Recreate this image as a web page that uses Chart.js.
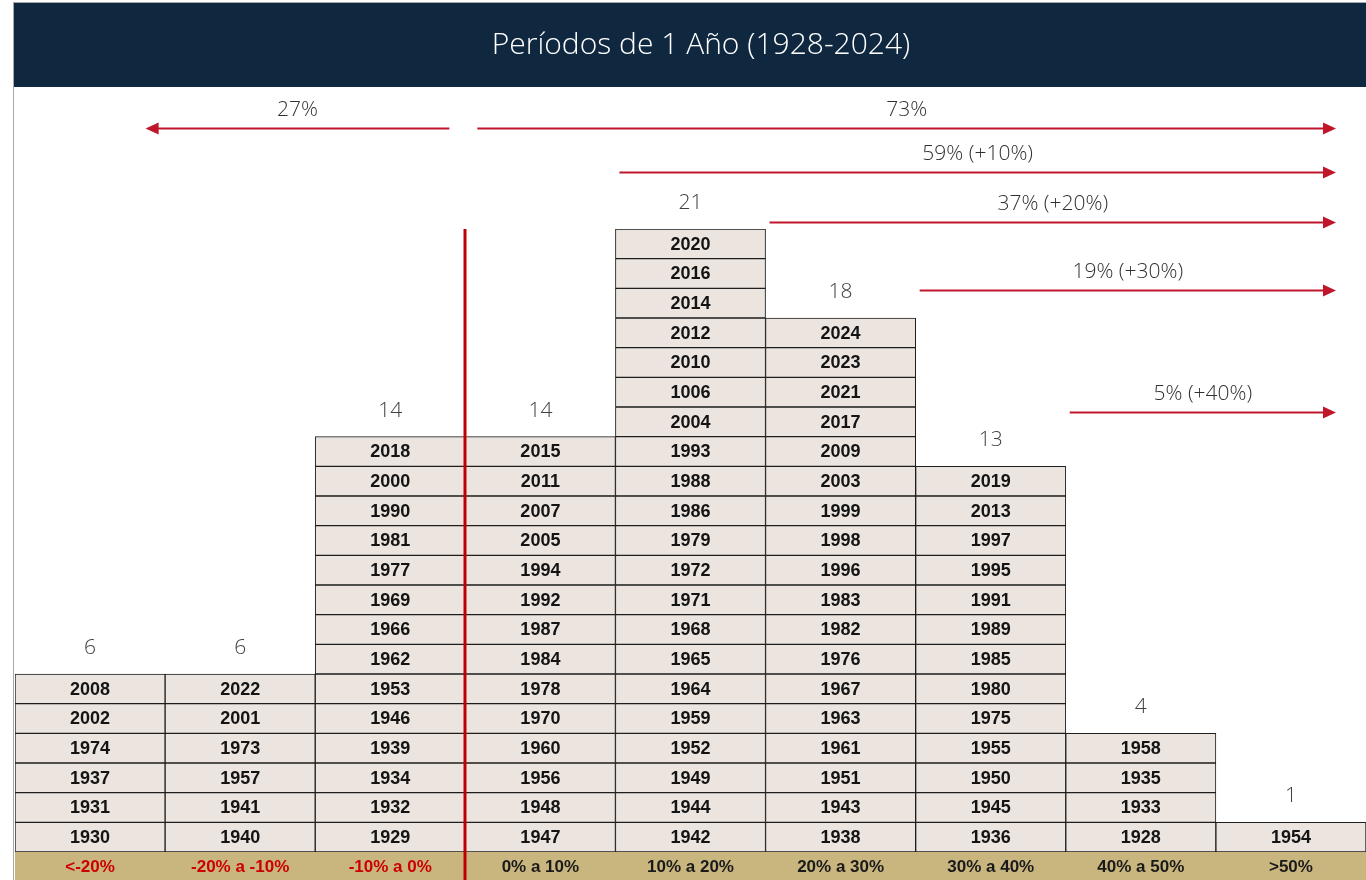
<!DOCTYPE html>
<html><head><meta charset="utf-8">
<script src="https://cdn.jsdelivr.net/npm/chart.js@4.4.1/dist/chart.umd.min.js"></script>
<style>html,body{margin:0;padding:0;background:#fff;}#wrap{width:1366px;height:880px;position:relative;}</style>
</head><body><div id="wrap"><canvas id="c" width="1366" height="880"></canvas></div>
<script>
const chartTitle = 'Períodos de 1 Año (1928-2024)';
const categories = ['<-20%', '-20% a -10%', '-10% a 0%', '0% a 10%', '10% a 20%', '20% a 30%', '30% a 40%', '40% a 50%', '>50%'];
// years in each bin, bottom to top
const yearsBelowMinus20 = ['1930', '1931', '1937', '1974', '2002', '2008'];
const yearsMinus20to10 = ['1940', '1941', '1957', '1973', '2001', '2022'];
const yearsMinus10to0 = ['1929', '1932', '1934', '1939', '1946', '1953', '1962', '1966', '1969', '1977', '1981', '1990', '2000', '2018'];
const years0to10 = ['1947', '1948', '1956', '1960', '1970', '1978', '1984', '1987', '1992', '1994', '2005', '2007', '2011', '2015'];
const years10to20 = ['1942', '1944', '1949', '1952', '1959', '1964', '1965', '1968', '1971', '1972', '1979', '1986', '1988', '1993', '2004', '1006', '2010', '2012', '2014', '2016', '2020'];
const years20to30 = ['1938', '1943', '1951', '1961', '1963', '1967', '1976', '1982', '1983', '1996', '1998', '1999', '2003', '2009', '2017', '2021', '2023', '2024'];
const years30to40 = ['1936', '1945', '1950', '1955', '1975', '1980', '1985', '1989', '1991', '1995', '1997', '2013', '2019'];
const years40to50 = ['1928', '1933', '1935', '1958'];
const yearsAbove50 = ['1954'];
const counts = [6, 6, 14, 14, 21, 18, 13, 4, 1];
// share annotations
const shareLabels = ['27%', '73%', '59% (+10%)', '37% (+20%)', '19% (+30%)', '5% (+40%)'];
const shareFromBin = [3, 3, 4, 5, 6, 7];
const shareDirection = ['left', 'right', 'right', 'right', 'right', 'right'];

const binYears = [yearsBelowMinus20, yearsMinus20to10, yearsMinus10to0, years0to10, years10to20, years20to30, years30to40, years40to50, yearsAbove50];

// layout / style constants
const arrowLevel = [24.4, 24.4, 22.92, 21.25, 18.95, 14.84];
const arrowGap = [-16, 12, 4, 4, 4, 4];
const RED = '#c0162b';
const maxLevels = Math.max(...counts);

const datasets = [];
for (let lvl = 0; lvl < maxLevels; lvl++) {
  datasets.push({
    label: 'nivel ' + (lvl + 1),
    data: binYears.map(b => (lvl < b.length ? 1 : null)),
    backgroundColor: '#ece5df',
    borderColor: '#1e1e1e',
    borderWidth: 1,
    borderSkipped: false,
    categoryPercentage: 1,
    barPercentage: 1
  });
}

const deco = {
  id: 'deco',
  beforeDraw(chart) {
    const ctx = chart.ctx, ca = chart.chartArea;
    ctx.save();
    ctx.fillStyle = '#fff';
    ctx.fillRect(0, 0, chart.width, chart.height);
    ctx.strokeStyle = '#a8a8a8';
    ctx.lineWidth = 1;
    ctx.strokeRect(13.5, 2.5, chart.width, chart.height);
    ctx.fillStyle = '#10283f';
    ctx.fillRect(14, 3, chart.width - 14, 84);
    ctx.fillStyle = '#ffffff';
    ctx.font = '300 30px "Open Sans", Lato, sans-serif';
    ctx.textAlign = 'center';
    ctx.textBaseline = 'middle';
    ctx.fillText(chartTitle, 701, 45);
    ctx.fillStyle = '#c9b57e';
    ctx.fillRect(ca.left, ca.bottom, ca.right - ca.left, chart.height - ca.bottom);
    ctx.restore();
  },
  afterDatasetsDraw(chart) {
    const ctx = chart.ctx, ca = chart.chartArea;
    const xs = chart.scales.x, ys = chart.scales.y;
    ctx.save();
    ctx.font = 'bold 18px "Liberation Sans", Arial, sans-serif';
    ctx.fillStyle = '#141414';
    ctx.textAlign = 'center';
    ctx.textBaseline = 'middle';
    chart.data.datasets.forEach((ds, lvl) => {
      const meta = chart.getDatasetMeta(lvl);
      meta.data.forEach((el, i) => {
        if (ds.data[i] == null) return;
        ctx.fillText(binYears[i][lvl], el.x, (el.y + el.base) / 2 + 1);
      });
    });
    ctx.font = '300 21px "Open Sans", sans-serif';
    ctx.fillStyle = '#404040';
    counts.forEach((n, i) => {
      ctx.fillText(String(n), xs.getPixelForValue(i), ys.getPixelForValue(n) - 26);
    });
    const x0 = Math.round(xs.getPixelForValue(2.5));
    ctx.fillStyle = '#c00000';
    ctx.fillRect(x0 - 1.5, ca.top, 3, chart.height - ca.top);
    const rightTip = xs.getPixelForValue(8.3);
    const leftTip = xs.getPixelForValue(0.37);
    shareLabels.forEach((lab, k) => {
      const y = Math.round(ys.getPixelForValue(arrowLevel[k])) + 0.5;
      const bx = xs.getPixelForValue(shareFromBin[k] - 0.5) + arrowGap[k];
      const tip = shareDirection[k] === 'left' ? leftTip : rightTip;
      const dir = shareDirection[k] === 'left' ? -1 : 1;
      ctx.strokeStyle = RED;
      ctx.fillStyle = RED;
      ctx.lineWidth = 2;
      ctx.beginPath();
      ctx.moveTo(bx, y);
      ctx.lineTo(tip - dir * 12, y);
      ctx.stroke();
      ctx.beginPath();
      ctx.moveTo(tip, y);
      ctx.lineTo(tip - dir * 13, y - 6);
      ctx.lineTo(tip - dir * 13, y + 6);
      ctx.closePath();
      ctx.fill();
      ctx.font = '300 21px "Open Sans", sans-serif';
      ctx.fillStyle = '#303030';
      ctx.textAlign = 'center';
      ctx.fillText(lab, (bx + tip) / 2, y - 18);
    });
    ctx.restore();
  }
};

new Chart(document.getElementById('c'), {
  type: 'bar',
  data: { labels: categories, datasets },
  options: {
    responsive: false,
    animation: false,
    devicePixelRatio: 1,
    events: [],
    layout: { padding: { left: 15, right: 0, top: 229, bottom: 0 } },
    plugins: { legend: { display: false }, tooltip: { enabled: false }, title: { display: false } },
    scales: {
      x: {
        stacked: true,
        offset: true,
        grid: { display: false, drawTicks: false },
        border: { display: false },
        ticks: {
          padding: 5,
          autoSkip: false,
          maxRotation: 0,
          font: { family: '"Liberation Sans", Arial, sans-serif', size: 17, weight: 'bold' },
          color: (c) => (c.index < 3 ? '#cc0000' : '#1a1a1a')
        },
        afterFit(s) { s.height = 28; }
      },
      y: { stacked: true, display: false, min: 0, max: maxLevels }
    }
  },
  plugins: [deco]
});
</script></body></html>
